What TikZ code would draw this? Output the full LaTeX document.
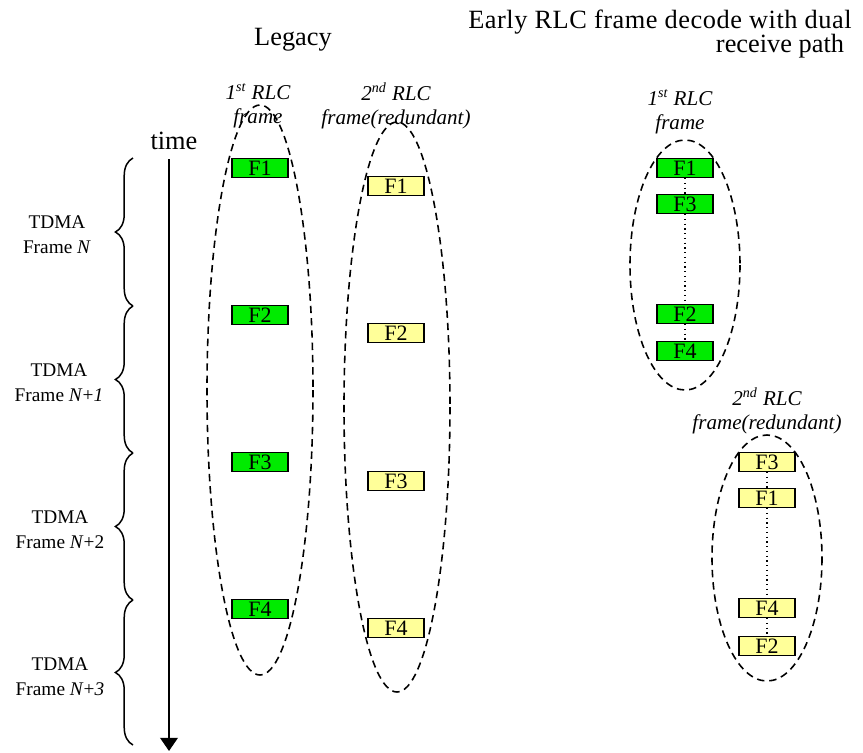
\documentclass[tikz,border=0pt]{standalone}
\usepackage{fontspec}
\setmainfont{LiberationSerif}[
    Extension=.ttf,
    UprightFont=*-Regular,
    ItalicFont=*-Italic,
    BoldFont=*-Bold,
    BoldItalicFont=*-BoldItalic]
\usetikzlibrary{arrows.meta, decorations.pathreplacing}
\definecolor{frmgreen}{RGB}{0,235,0}
\definecolor{frmyellow}{RGB}{255,255,153}

\begin{document}
\begin{tikzpicture}[
    x=0.02cm, y=-0.02cm,
    font=\fontsize{15}{17}\selectfont,
    firstfrm/.style={
        draw=black, line width=0.8pt, fill=frmgreen,
        minimum width=1.12cm, minimum height=0.38cm, inner sep=0pt,
        font=\fontsize{12.5}{12}\selectfont
    },
    redfrm/.style={
        draw=black, line width=0.8pt, fill=frmyellow,
        minimum width=1.12cm, minimum height=0.38cm, inner sep=0pt,
        font=\fontsize{12.5}{12}\selectfont
    },
    rlclabel/.style={
        align=center, inner sep=0pt,
        font=\itshape\fontsize{12}{14}\selectfont
    },
    tdmalabel/.style={
        align=center, inner sep=0pt,
        font=\fontsize{11}{14}\selectfont
    },
    group/.style={line width=0.9pt, dash pattern=on 4.2pt off 2.8pt},
    order/.style={dotted, line width=0.7pt},
    tdma/.style={
        decorate, line width=0.85pt,
        decoration={brace, amplitude=10pt}
    },
    timeline/.style={
        -{Triangle[length=7.5pt, width=10pt]}, line width=1.1pt
    }
]
\useasboundingbox (0,0) rectangle (863,752);

% headings
\node (legacy) at (293,40) {Legacy};
\node[anchor=west, inner sep=0pt, font=\fontsize{15}{17}\selectfont\addfontfeature{LetterSpace=2}]
    (early) at (468,22) {Early RLC frame decode with dual};
\node (early2) at (780,46) {receive path};

% time axis and TDMA frames
\node (time) at (174,141) {time};
\coordinate (tstart) at (169,159);
\coordinate (tend) at (169,751);
\draw[timeline] (tstart) -- (tend);

\coordinate (b0) at (133,158);
\coordinate (b1) at (133,306);
\coordinate (b2) at (133,453);
\coordinate (b3) at (133,600);
\coordinate (b4) at (133,745);
\draw[tdma] (b1) -- (b0);
\draw[tdma] (b2) -- (b1);
\draw[tdma] (b3) -- (b2);
\draw[tdma] (b4) -- (b3);

\node[tdmalabel] (n0) at (57,235) {TDMA\\Frame \textit{N}};
\node[tdmalabel] (n1) at (59,383) {TDMA\\Frame \textit{N}+\textit{1}};
\node[tdmalabel] (n2) at (60,530) {TDMA\\Frame \textit{N}+2};
\node[tdmalabel] (n3) at (60,677) {TDMA\\Frame \textit{N}+\textit{3}};

% legacy: both RLC frames
\node[rlclabel] (lfirst) at (258,106) {1\textsuperscript{st} RLC\\frame};
\node[rlclabel] (lred) at (396,106) {2\textsuperscript{nd} RLC\\frame(redundant)};
\draw[group] (260,390) ellipse [x radius=53, y radius=285];
\draw[group] (397,407) ellipse [x radius=53, y radius=285];

\node[firstfrm] (lf1) at (260,168) {F1};
\node[firstfrm] (lf2) at (260,315) {F2};
\node[firstfrm] (lf3) at (260,462) {F3};
\node[firstfrm] (lf4) at (260,609) {F4};

\node[redfrm] (lr1) at (396,186) {F1};
\node[redfrm] (lr2) at (396,333) {F2};
\node[redfrm] (lr3) at (396,481) {F3};
\node[redfrm] (lr4) at (396,628) {F4};

% early decode: first RLC frame
\node[rlclabel] (efirst) at (680,112) {1\textsuperscript{st} RLC\\frame};
\draw[group] (685,265) ellipse [x radius=55, y radius=125];
\node[firstfrm] (ef1) at (685,168) {F1};
\node[firstfrm] (ef3) at (685,204) {F3};
\node[firstfrm] (ef2) at (685,314) {F2};
\node[firstfrm] (ef4) at (685,351) {F4};
\draw[order] (ef1) -- (ef3) -- (ef2) -- (ef4);

% early decode: redundant RLC frame
\node[rlclabel] (ered) at (767,411) {2\textsuperscript{nd} RLC\\frame(redundant)};
\draw[group] (767,558) ellipse [x radius=55, y radius=123];
\node[redfrm] (er3) at (767,462) {F3};
\node[redfrm] (er1) at (767,498) {F1};
\node[redfrm] (er4) at (767,608) {F4};
\node[redfrm] (er2) at (767,646) {F2};
\draw[order] (er3) -- (er1) -- (er4) -- (er2);
\end{tikzpicture}
\end{document}
